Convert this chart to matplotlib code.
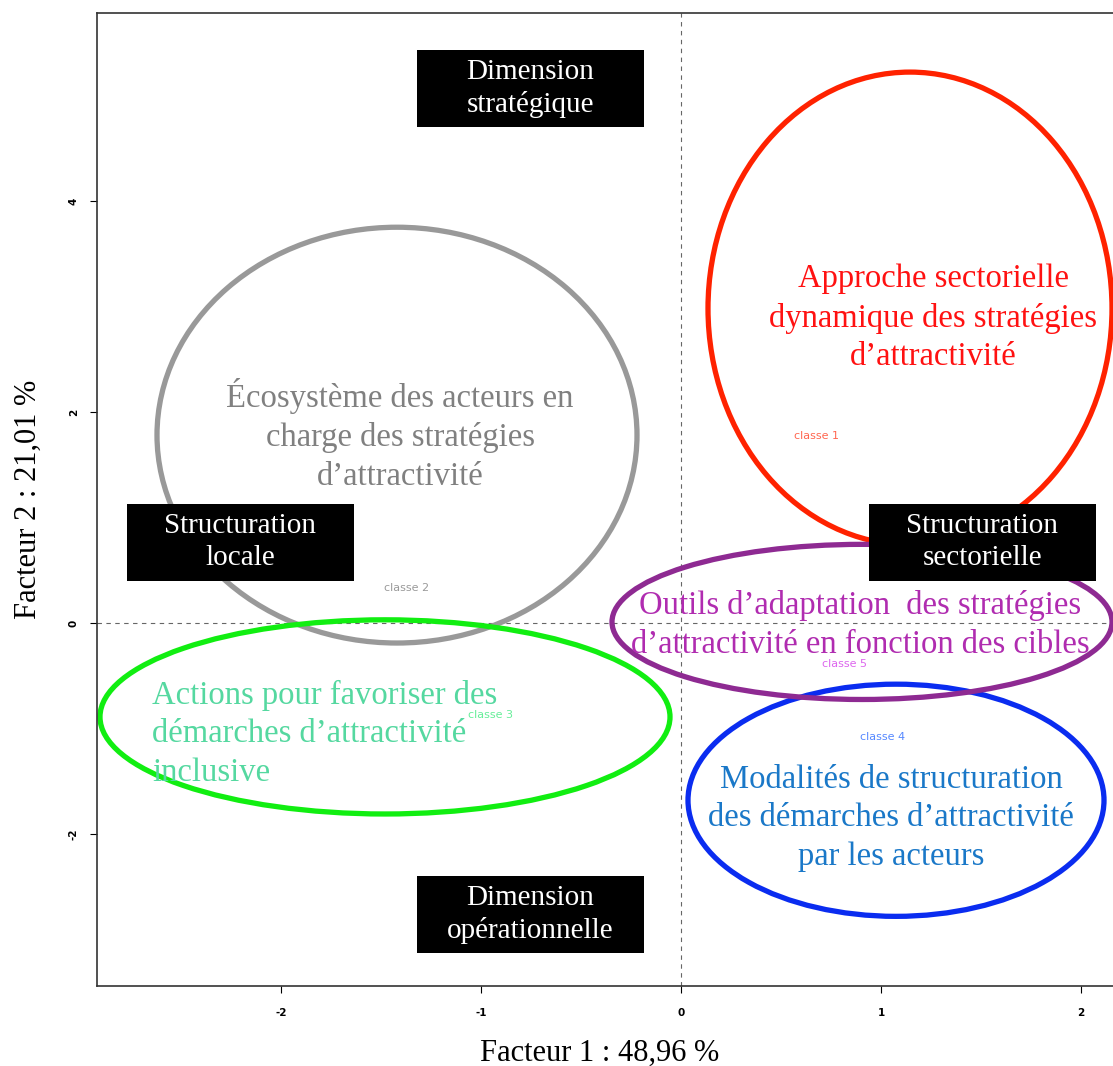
import matplotlib.pyplot as plt
from matplotlib.patches import Ellipse, Rectangle

plt.rcParams['axes.unicode_minus'] = False

# class ellipses (centre x, centre y, width, height) in factor units
classes = ['classe 1', 'classe 2', 'classe 3', 'classe 4', 'classe 5']
ell_x = [1.145, -1.42, -1.48, 1.075, 0.905]
ell_y = [2.98, 1.78, -0.89, -1.68, 0.01]
ell_w = [2.02, 2.40, 2.85, 2.08, 2.50]
ell_h = [4.48, 3.94, 1.84, 2.20, 1.47]
lab_x = [0.68, -1.37, -0.955, 1.01, 0.82]
lab_y = [1.77, 0.33, -0.87, -1.08, -0.39]

titles = ["Approche sectorielle\ndynamique des stratégies\nd\u2019attractivité",
          "Écosystème des acteurs en\ncharge des stratégies\nd\u2019attractivité",
          "Actions pour favoriser des\ndémarches d\u2019attractivité\ninclusive",
          "Modalités de structuration\ndes démarches d\u2019attractivité\npar les acteurs",
          "Outils d\u2019adaptation  des stratégies\nd\u2019attractivité en fonction des cibles"]
title_x = [1.26, -1.405, -2.645, 1.05, 0.895]
title_y = [2.89, 1.78, -1.05, -1.85, -0.02]

boxes = ["Dimension\nstratégique", "Structuration\nlocale",
         "Structuration\nsectorielle", "Dimension\nopérationnelle"]
box_x = [-1.32, -2.77, 0.94, -1.32]
box_y = [4.70, 0.398, 0.398, -3.128]

ell_col = ['#ff2200', '#999999', '#11ee11', '#0a2cf0', '#8e2a92']
txt_col = ['#ff1111', '#808080', '#55d8a0', '#1a78c8', '#b02cb0']
lab_col = ['#ff6650', '#9a9a9a', '#66ee99', '#5588ff', '#dd66ee']

serif = 'Liberation Serif'

fig = plt.figure(figsize=(11.13, 10.66), dpi=100)
ax = fig.add_axes([97/1113, 80/1066, 1033/1113, 973/1066])
ax.set_xlim(-2.92, 2.245)
ax.set_ylim(-3.44, 5.78)

ax.axhline(0, color='#666666', ls=(0, (4, 4)), lw=0.8, zorder=1)
ax.axvline(0, color='#666666', ls=(0, (4, 4)), lw=0.8, zorder=1)

for i in range(len(classes)):
    ax.add_patch(Ellipse((ell_x[i], ell_y[i]), ell_w[i], ell_h[i], fill=False,
                         ec=ell_col[i], lw=3.8, zorder=2))
    ax.text(lab_x[i], lab_y[i], classes[i], color=lab_col[i], fontsize=8,
            ha='center', va='center', zorder=3)

for i in range(len(titles)):
    ha = 'left' if i == 2 else 'center'
    ax.text(title_x[i], title_y[i], titles[i], color=txt_col[i], family=serif,
            fontsize=23.5, ha=ha, va='center', multialignment=ha,
            linespacing=1.35, zorder=4)

for i in range(len(boxes)):
    ax.add_patch(Rectangle((box_x[i], box_y[i]), 1.135, 0.73, fc='black',
                           ec='none', zorder=5))
    ax.text(box_x[i] + 0.5675, box_y[i] + 0.365, boxes[i], color='white',
            family=serif, fontsize=21, ha='center', va='center',
            linespacing=1.3, zorder=6)

ax.set_xticks([-2, -1, 0, 1, 2])
ax.set_yticks([-2, 0, 2, 4])
ax.tick_params(labelsize=7.5, length=5, width=0.8)
ax.tick_params(axis='x', pad=11)
ax.tick_params(axis='y', pad=8)
for t in ax.get_xticklabels() + ax.get_yticklabels():
    t.set_fontweight('bold')
for t in ax.get_yticklabels():
    t.set_rotation(90)
    t.set_va('center')
for s in ax.spines.values():
    s.set_linewidth(1.2)
    s.set_color('#333333')

ax.set_xlabel('Facteur 1 : 48,96 %', family=serif, fontsize=22)
ax.set_ylabel('Facteur 2 : 21,01 %', family=serif, fontsize=22)
ax.xaxis.set_label_coords(0.487, -0.054)
ax.yaxis.set_label_coords(-0.052, 0.5)

fig.savefig('out.png', dpi=100)
